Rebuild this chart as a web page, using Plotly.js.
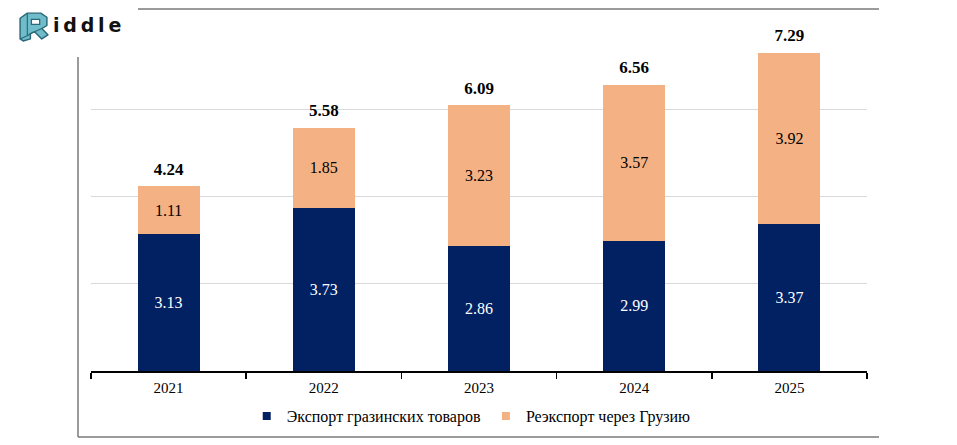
<!DOCTYPE html>
<html>
<head>
<meta charset="utf-8">
<script src="https://cdn.plot.ly/plotly-3.0.1.min.js"></script>
<style>html,body{margin:0;padding:0;background:#fff;}#chart{width:957px;height:445px;}</style>
</head>
<body>
<div id="chart"></div>
<script>
const years = ['2021', '2022', '2023', '2024', '2025'];
const exportGoods = [3.13, 3.73, 2.86, 2.99, 3.37];
const reexport = [1.11, 1.85, 3.23, 3.57, 3.92];
const totals = [4.24, 5.58, 6.09, 6.56, 7.29];
const seriesNames = ['Экспорт гразинских товаров', 'Реэкспорт через Грузию'];
const seriesColors = ['#022163', '#f4b183'];

const serif = 'Liberation Serif';

const traces = [
  {
    type: 'bar', x: years, y: exportGoods, name: seriesNames[0], showlegend: false,
    marker: {color: seriesColors[0]},
    text: exportGoods.map(v => v.toFixed(2)), textposition: 'inside', insidetextanchor: 'middle',
    textangle: 0, constraintext: 'none',
    textfont: {family: serif, size: 16, color: '#ffffff'},
    hoverinfo: 'skip'
  },
  {
    type: 'bar', x: years, y: reexport, name: seriesNames[1], showlegend: false,
    marker: {color: seriesColors[1]},
    text: reexport.map(v => v.toFixed(2)), textposition: 'inside', insidetextanchor: 'middle',
    textangle: 0, constraintext: 'none',
    textfont: {family: serif, size: 16, color: '#000000'},
    hoverinfo: 'skip'
  },
  {
    type: 'scatter', mode: 'markers+text', x: years, y: totals,
    text: totals.map(v => '<b>' + v.toFixed(2) + '</b>'), textposition: 'top center',
    marker: {size: 10, opacity: 0, color: '#ffffff'},
    textfont: {family: serif, size: 17, color: '#000000'},
    showlegend: false, hoverinfo: 'skip', cliponaxis: false
  },
  {
    type: 'scatter', mode: 'markers', x: [null], y: [null], name: seriesNames[0],
    marker: {symbol: 'square', size: 8, color: seriesColors[0]}, hoverinfo: 'skip'
  },
  {
    type: 'scatter', mode: 'markers', x: [null], y: [null], name: seriesNames[1],
    marker: {symbol: 'square', size: 8, color: seriesColors[1]}, hoverinfo: 'skip'
  }
];

const logoSvg = "<svg xmlns='http://www.w3.org/2000/svg' width='64' height='64' viewBox='0 0 32 32'>" +
  "<path d='M3 9 L10 4 L23 4 L29 8 L29 16 L24 19 L30 25 L24 29 L17 22 L13 24 L13 29 L6 31 L3 29 Z' fill='#6fbccb' stroke='#2a6878' stroke-width='1.4' stroke-linejoin='round'/>" +
  "<path d='M10 4 L10 26 M10 26 L13 24 M10 26 L3 29' fill='none' stroke='#2a6878' stroke-width='1.1'/>" +
  "<path d='M14 10 L22 10 L22 15 L14 15 Z' fill='#ffffff' stroke='#2a6878' stroke-width='1.2'/>" +
  "<path d='M17 22 L24 19' fill='none' stroke='#2a6878' stroke-width='1.1'/>" +
  "</svg>";
const logoUri = 'data:image/svg+xml;base64,' + btoa(logoSvg);

const px = x => (x - 91) / 776;
const py = y => (371 - y) / 349;
const frameColor = '#7a7a7a';

const layout = {
  width: 957, height: 445,
  margin: {l: 91, r: 90, t: 22, b: 74},
  paper_bgcolor: '#ffffff', plot_bgcolor: '#ffffff',
  barmode: 'stack', bargap: 0.6,
  showlegend: true,
  legend: {
    orientation: 'h', x: 0.49, xanchor: 'center', y: py(416), yanchor: 'middle',
    font: {family: serif, size: 16, color: '#000000'},
    traceorder: 'normal', itemwidth: 30
  },
  xaxis: {
    type: 'category', showgrid: false, zeroline: false,
    showline: true, linecolor: '#000000', linewidth: 1.5,
    ticks: 'outside', tickson: 'boundaries', ticklen: 6, tickwidth: 1.5, tickcolor: '#000000',
    ticklabelstandoff: 2,
    tickfont: {family: serif, size: 15, color: '#000000'},
    fixedrange: true
  },
  yaxis: {
    range: [0, 8], dtick: 2, showgrid: true, gridcolor: '#d9d9d9', gridwidth: 1,
    showticklabels: false, zeroline: false, showline: false, ticks: '',
    fixedrange: true
  },
  shapes: [
    {type: 'line', xref: 'paper', yref: 'paper', x0: px(138), x1: px(879), y0: py(9), y1: py(9), line: {color: frameColor, width: 1.5}},
    {type: 'line', xref: 'paper', yref: 'paper', x0: px(78), x1: px(78), y0: py(57), y1: py(437), line: {color: frameColor, width: 1.5}},
    {type: 'line', xref: 'paper', yref: 'paper', x0: px(78), x1: px(879), y0: py(437), y1: py(437), line: {color: frameColor, width: 1.5}}
  ],
  images: [
    {source: logoUri, xref: 'paper', yref: 'paper', x: px(17), y: py(9), sizex: 33 / 776, sizey: 33 / 349, xanchor: 'left', yanchor: 'top', sizing: 'stretch', layer: 'above'}
  ],
  annotations: [
    {text: '<b>i\u2009d\u2009d\u2009l\u2009e</b>', xref: 'paper', yref: 'paper', x: px(51), y: py(25), xanchor: 'left', yanchor: 'middle', showarrow: false,
     font: {family: 'DejaVu Sans, sans-serif', size: 19, color: '#111111'}}
  ]
};

Plotly.newPlot('chart', traces, layout, {displayModeBar: false, staticPlot: true});
</script>
</body>
</html>
